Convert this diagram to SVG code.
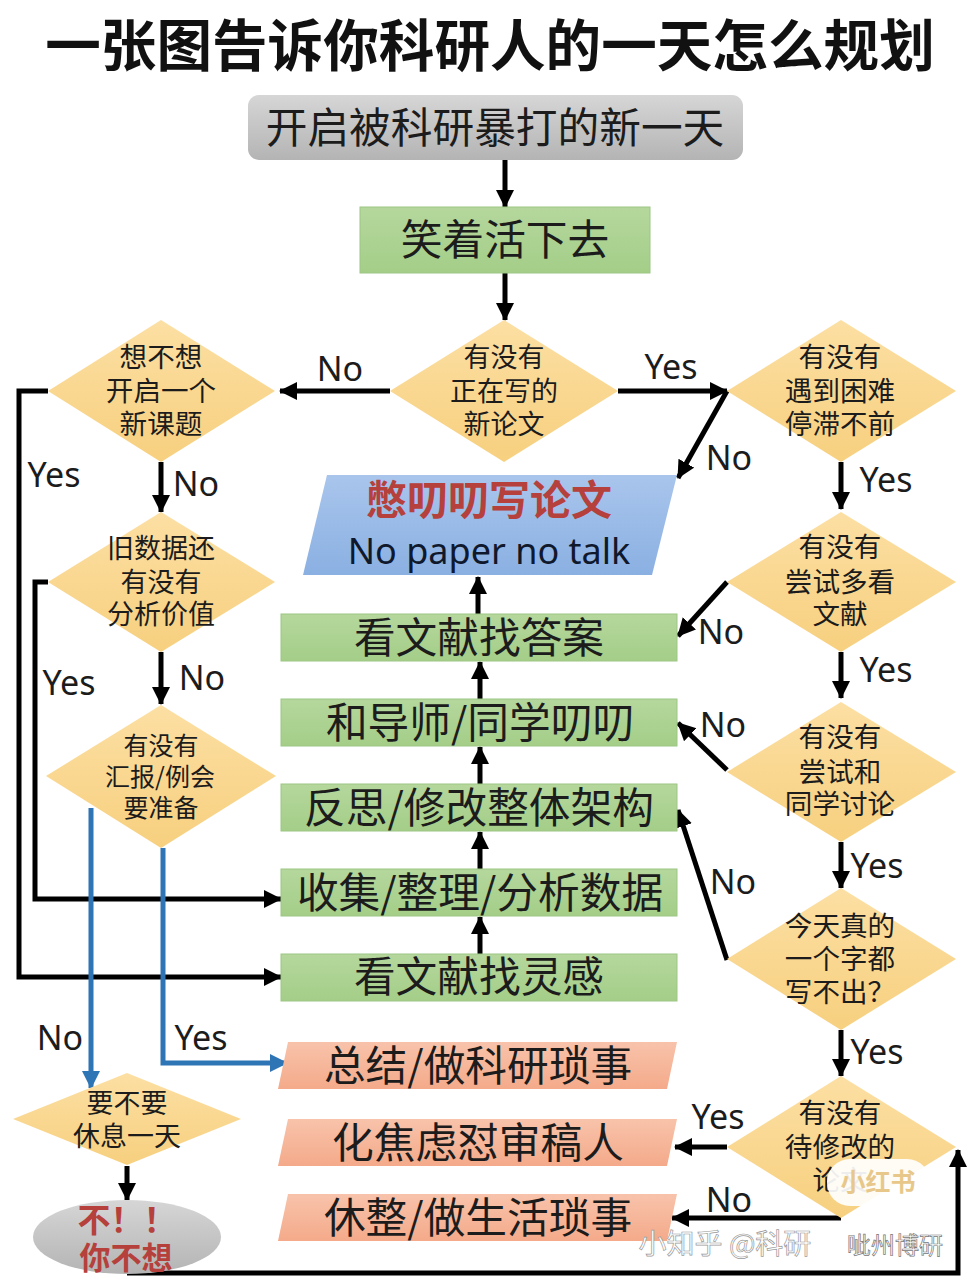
<svg xmlns="http://www.w3.org/2000/svg" width="974" height="1284" viewBox="0 0 974 1284">
<style>
text{font-family:"Noto Sans CJK SC","Noto Sans",sans-serif;text-anchor:middle;fill:#1c1c1c}
.d{fill:url(#gd)}
.g{fill:url(#gn);stroke:#9cc683;stroke-width:1}
.s{fill:url(#gs)}
.t27{font-size:27.6px}
.t26{font-size:27px}
.t41{font-size:41.7px}
.t38{font-size:41.7px}
.l{font-family:"Noto Sans",sans-serif;font-size:34px}
.c{fill:none;stroke:#000;stroke-width:5;marker-end:url(#a)}
.b{fill:none;stroke:#2e75b6;stroke-width:5;marker-end:url(#ab)}
.r{fill:#b5403c;font-weight:700}
</style>
<defs>
<linearGradient id="gd" x1="0" y1="0" x2="0" y2="1"><stop offset="0" stop-color="#fcdfa3"/><stop offset="1" stop-color="#f7d07f"/></linearGradient>
<linearGradient id="gs" x1="0" y1="0" x2="0" y2="1"><stop offset="0" stop-color="#f8c3ab"/><stop offset="1" stop-color="#f4aa8a"/></linearGradient>
<linearGradient id="gn" x1="0" y1="0" x2="0" y2="1"><stop offset="0" stop-color="#b5d79d"/><stop offset="1" stop-color="#a4ce88"/></linearGradient>
<linearGradient id="gb" x1="0" y1="0" x2="0" y2="1"><stop offset="0" stop-color="#a9c5ec"/><stop offset="1" stop-color="#8ab0e2"/></linearGradient>
<linearGradient id="gg" x1="0" y1="0" x2="0" y2="1"><stop offset="0" stop-color="#d6d6d6"/><stop offset="1" stop-color="#b4b4b4"/></linearGradient>
<marker id="a" markerUnits="userSpaceOnUse" markerWidth="20" markerHeight="20" refX="17" refY="9" orient="auto"><path d="M0 0L18 9L0 18Z" fill="#000"/></marker>
<marker id="ab" markerUnits="userSpaceOnUse" markerWidth="20" markerHeight="20" refX="17" refY="9" orient="auto"><path d="M0 0L18 9L0 18Z" fill="#2e75b6"/></marker>
</defs>
<rect width="974" height="1284" fill="#fff"/>
<text id="title" x="490" y="66" font-size="55.6" font-weight="700" style="fill:#111">一张图告诉你科研人的一天怎么规划</text>
<g id="connectors">
<path class="c" d="M505 160V207"/>
<path class="c" d="M505 273V320"/>
<path class="c" d="M390 391H280"/>
<path class="c" d="M618 391H727"/>
<path class="c" d="M727 391L678 478"/>
<path class="c" d="M161 462V512"/>
<path class="c" d="M841 462V509"/>
<path class="c" d="M841 652V698"/>
<path class="c" d="M841 842V888"/>
<path class="c" d="M841 1030V1076"/>
<path class="c" d="M161 652V704"/>
<path class="c" d="M727 582L678 636"/>
<path class="c" d="M727 770L678 723"/>
<path class="c" d="M727 960L678 810"/>
<path class="c" d="M478 614V577"/>
<path class="c" d="M480 699V662"/>
<path class="c" d="M480 784V747"/>
<path class="c" d="M480 869V832"/>
<path class="c" d="M480 954V917"/>
<path class="c" d="M48 391H19V977H281"/>
<path class="c" d="M48 582H35V899H281"/>
<path class="b" d="M91 808V1088"/>
<path class="b" d="M163 848V1063H287"/>
<path class="c" d="M727 1147H675"/>
<path class="c" d="M841 1218H672"/>
<path class="c" d="M127 1166V1200"/>
<path class="c" d="M127 1273H958V1150"/>
</g>
<g id="n-start"><rect x="248" y="95" width="495" height="65" rx="11" fill="url(#gg)"/><text x="495" y="143" font-size="41.7">开启被科研暴打的新一天</text></g>
<g id="n-smile"><rect class="g" x="360" y="207" width="290" height="66"/><text class="t41" x="505" y="255">笑着活下去</text></g>
<g id="n-d1"><path class="d" d="M504 320L618 391L504 462L390 391Z"/><text class="t26" x="504" y="367">有没有</text><text class="t26" x="504" y="401">正在写的</text><text class="t26" x="504" y="434">新论文</text></g>
<g id="n-d2"><path class="d" d="M161 320L275 391L161 462L48 391Z"/><text class="t27" x="161" y="367">想不想</text><text class="t27" x="161" y="401">开启一个</text><text class="t27" x="161" y="434">新课题</text></g>
<g id="n-d3"><path class="d" d="M841 320L956 391L841 462L727 391Z"/><text class="t27" x="840" y="367">有没有</text><text class="t27" x="840" y="401">遇到困难</text><text class="t27" x="840" y="434">停滞不前</text></g>
<g id="n-d4"><path class="d" d="M161 512L275 582L161 652L48 582Z"/><text class="t26" x="161" y="558">旧数据还</text><text class="t26" x="161" y="592">有没有</text><text class="t26" x="161" y="624">分析价值</text></g>
<g id="n-d5"><path class="d" d="M161 705L276 776L161 848L46 776Z"/><text x="161" y="755" font-size="25">有没有</text><text x="160" y="786" font-size="25">汇报/例会</text><text x="161" y="817" font-size="25">要准备</text></g>
<g id="n-d6"><path class="d" d="M841 512L956 582L841 652L727 582Z"/><text class="t27" x="840" y="557">有没有</text><text class="t27" x="840" y="592">尝试多看</text><text class="t27" x="840" y="624">文献</text></g>
<g id="n-d7"><path class="d" d="M841 702L956 772L841 842L727 772Z"/><text class="t27" x="840" y="747">有没有</text><text class="t27" x="840" y="782">尝试和</text><text class="t27" x="840" y="814">同学讨论</text></g>
<g id="n-d8"><path class="d" d="M841 888L956 959L841 1030L727 959Z"/><text class="t27" x="840" y="936">今天真的</text><text class="t27" x="840" y="969">一个字都</text><text class="t27" x="840" y="1002">写不出？</text></g>
<g id="n-d9"><path class="d" d="M841 1076L956 1147L841 1218L727 1147Z"/><text class="t27" x="840" y="1123">有没有</text><text class="t27" x="840" y="1157">待修改的</text><text class="t27" x="840" y="1190">论文</text></g>
<g id="n-d10"><path class="d" d="M127 1073L241 1119L127 1165L13 1119Z"/><text class="t26" x="127" y="1113">要不要</text><text class="t26" x="127" y="1146">休息一天</text></g>
<g id="n-no"><ellipse cx="127" cy="1237" rx="94" ry="37" fill="url(#gg)"/><text class="r" x="127" y="1232" font-size="33" style="fill:#b5403c">不！！</text><text class="r" x="126" y="1269" font-size="31" style="fill:#b5403c">你不想</text></g>
<g id="n-write"><path d="M327 475H677L652 575H303Z" fill="url(#gb)"/><text class="r" x="489" y="515" font-size="41" style="fill:#b5403c">憋叨叨写论文</text><text x="489" y="564" font-size="36" style="font-family:'Noto Sans',sans-serif;fill:#10182c">No paper no talk</text></g>
<g id="n-g1"><rect class="g" x="281" y="614" width="396" height="47"/><text class="t41" x="479" y="653">看文献找答案</text></g>
<g id="n-g2"><rect class="g" x="281" y="699" width="396" height="47"/><text class="t38" x="480" y="738">和导师/同学叨叨</text></g>
<g id="n-g3"><rect class="g" x="281" y="784" width="396" height="47"/><text class="t38" x="479" y="823">反思/修改整体架构</text></g>
<g id="n-g4"><rect class="g" x="281" y="869" width="396" height="47"/><text class="t38" x="480" y="908">收集/整理/分析数据</text></g>
<g id="n-g5"><rect class="g" x="281" y="954" width="396" height="47"/><text class="t41" x="479" y="992">看文献找灵感</text></g>
<g id="n-s1"><path class="s" d="M288 1042H677L667 1089H278Z"/><text class="t38" x="478" y="1081">总结/做科研琐事</text></g>
<g id="n-s2"><path class="s" d="M288 1119H677L667 1166H278Z"/><text class="t38" x="478" y="1158">化焦虑怼审稿人</text></g>
<g id="n-s3"><path class="s" d="M288 1194H677L667 1241H278Z"/><text class="t38" x="478" y="1233">休整/做生活琐事</text></g>
<g id="labels">
<text class="l" x="340" y="381">No</text>
<text class="l" x="671" y="379">Yes</text>
<text class="l" x="729" y="470">No</text>
<text class="l" x="54" y="487">Yes</text>
<text class="l" x="196" y="496">No</text>
<text class="l" x="886" y="492">Yes</text>
<text class="l" x="721" y="644">No</text>
<text class="l" x="886" y="682">Yes</text>
<text class="l" x="69" y="695">Yes</text>
<text class="l" x="202" y="690">No</text>
<text class="l" x="723" y="737">No</text>
<text class="l" x="877" y="878">Yes</text>
<text class="l" x="733" y="894">No</text>
<text class="l" x="60" y="1050">No</text>
<text class="l" x="201" y="1050">Yes</text>
<text class="l" x="877" y="1064">Yes</text>
<text class="l" x="718" y="1129">Yes</text>
<text class="l" x="729" y="1212">No</text>
</g>
<g id="watermark">
<rect x="827" y="1159" width="103" height="47" rx="23" fill="#fff" opacity=".92"/>
<text x="878" y="1191" font-size="25" font-weight="700" style="fill:#e8c88a">小红书</text>
<text x="725" y="1254" font-size="28" style="fill:#fff;stroke:#999;stroke-width:.7">小知乎 @科研</text>
<text x="895" y="1254" font-size="24" style="fill:#fff;stroke:#777;stroke-width:.7">呲州博研</text>
</g>
</svg>
